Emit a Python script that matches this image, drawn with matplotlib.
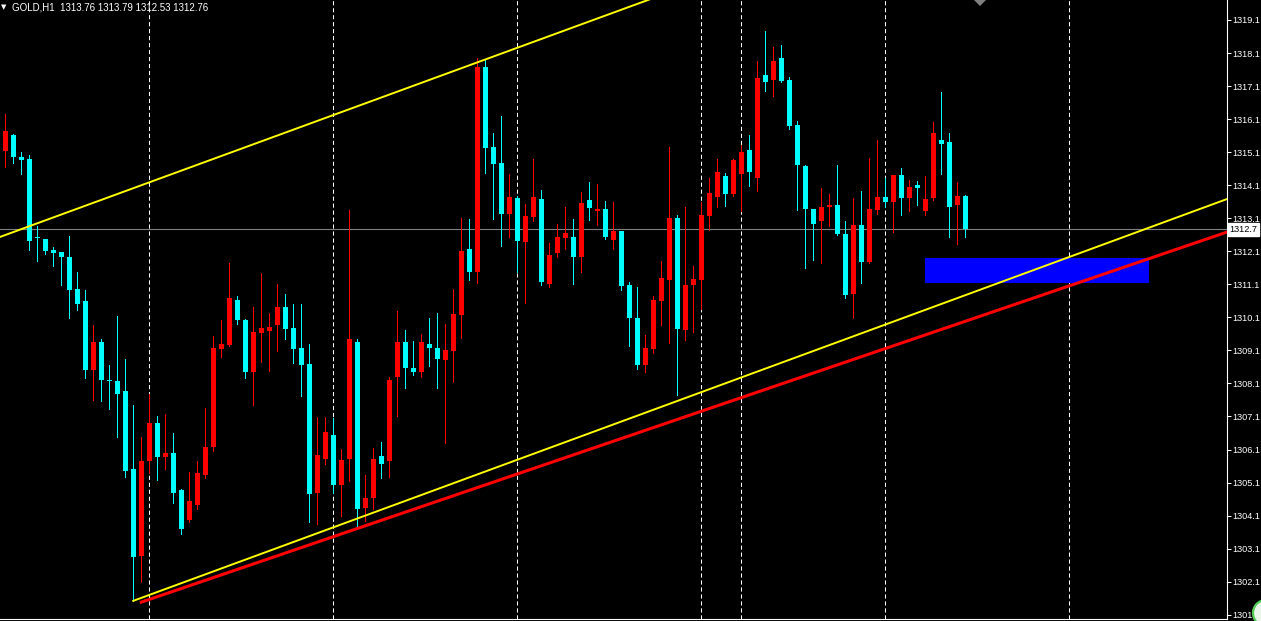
import matplotlib
matplotlib.use("Agg")
import matplotlib.pyplot as plt
import matplotlib.transforms as mtransforms
from matplotlib.patches import Rectangle, Circle, Polygon

# GOLD H1 candles (bar index = position from the left)
opens = [
    1315.14, 1315.62, 1314.95, 1314.89, 1312.52, 1312.47, 1312.14, 1312.08, 1311.93, 1310.96,
    1310.60, 1308.51, 1309.35, 1308.21, 1308.17, 1307.87, 1305.51, 1302.89, 1305.75, 1306.90,
    1305.88, 1305.99, 1304.88, 1303.98, 1304.42, 1305.33, 1306.19, 1309.14, 1309.26, 1310.63,
    1310.02, 1308.45, 1309.63, 1309.69, 1309.87, 1310.41, 1309.78, 1309.17, 1308.69, 1304.79,
    1305.82, 1306.54, 1305.04, 1305.82, 1309.35, 1304.34, 1304.64, 1305.90, 1305.76, 1308.30,
    1309.35, 1308.57, 1308.46, 1309.29, 1309.17, 1308.82, 1309.09, 1310.18, 1312.17, 1311.48,
    1317.68, 1315.26, 1314.77, 1313.24, 1313.71, 1312.39, 1313.15, 1313.68, 1311.12, 1312.06,
    1312.51, 1312.53, 1311.94, 1313.65, 1313.32, 1313.38, 1312.45, 1312.71, 1311.08, 1310.08,
    1308.67, 1309.15, 1310.60, 1311.24, 1313.11, 1309.73, 1311.09, 1311.24, 1313.18, 1313.75,
    1314.38, 1313.84, 1314.45, 1315.17, 1314.33, 1317.44, 1317.29, 1317.95, 1317.28, 1315.92,
    1314.68, 1313.38, 1313.03, 1313.45, 1313.50, 1312.62, 1310.82, 1312.90, 1311.78, 1313.36,
    1313.74, 1313.60, 1314.41, 1313.72, 1314.11, 1313.33, 1313.72, 1315.47, 1315.41, 1313.51,
    1313.76,
]
highs = [
    1316.25, 1315.66, 1315.11, 1315.01, 1312.87, 1312.47, 1312.23, 1312.08, 1312.56, 1311.47,
    1310.93, 1309.87, 1309.44, 1308.66, 1310.14, 1308.84, 1307.45, 1306.48, 1307.78, 1307.11,
    1307.18, 1306.60, 1304.91, 1305.42, 1305.75, 1307.36, 1309.54, 1310.02, 1311.75, 1310.75,
    1310.05, 1310.41, 1311.44, 1310.23, 1311.11, 1310.81, 1310.50, 1310.50, 1309.29, 1307.08,
    1307.08, 1307.05, 1306.12, 1313.35, 1309.44, 1305.34, 1306.16, 1306.33, 1308.30, 1310.29,
    1309.72, 1309.38, 1309.60, 1310.08, 1310.23, 1309.90, 1310.96, 1313.11, 1313.08, 1317.95,
    1317.92, 1315.68, 1316.19, 1314.44, 1313.77, 1313.53, 1314.89, 1313.95, 1312.35, 1312.93,
    1313.44, 1313.08, 1313.89, 1314.20, 1314.14, 1313.62, 1313.59, 1312.71, 1311.17, 1311.02,
    1309.57, 1310.75, 1311.81, 1315.26, 1313.20, 1313.44, 1311.65, 1313.59, 1314.32, 1314.89,
    1314.47, 1314.89, 1315.32, 1315.62, 1317.86, 1318.77, 1318.28, 1318.34, 1317.37, 1316.04,
    1314.71, 1313.38, 1314.02, 1313.83, 1314.71, 1313.02, 1313.71, 1313.92, 1314.92, 1315.47,
    1314.32, 1314.41, 1314.62, 1314.26, 1314.23, 1314.38, 1316.01, 1316.92, 1315.68, 1314.20,
    1313.79,
]
lows = [
    1314.66, 1314.78, 1314.45, 1312.15, 1311.81, 1312.03, 1311.66, 1311.09, 1310.09, 1310.33,
    1308.26, 1307.60, 1307.58, 1307.34, 1306.49, 1305.28, 1301.52, 1302.10, 1305.38, 1305.18,
    1305.52, 1304.49, 1303.55, 1303.92, 1304.31, 1305.25, 1306.06, 1308.91, 1309.24, 1309.91,
    1308.27, 1307.45, 1308.75, 1308.48, 1309.08, 1309.45, 1308.72, 1307.72, 1303.91, 1303.85,
    1305.67, 1304.79, 1304.10, 1305.16, 1303.76, 1303.95, 1304.31, 1305.25, 1305.28, 1307.12,
    1307.97, 1308.36, 1308.30, 1308.64, 1307.97, 1306.31, 1308.15, 1309.48, 1311.24, 1311.15,
    1314.48, 1313.09, 1312.27, 1312.54, 1311.48, 1310.54, 1313.03, 1311.09, 1311.03, 1311.94,
    1312.18, 1311.12, 1311.48, 1313.06, 1312.90, 1312.48, 1312.18, 1310.94, 1309.24, 1308.55,
    1308.46, 1309.03, 1309.88, 1309.33, 1307.76, 1309.42, 1309.67, 1310.36, 1312.75, 1313.45,
    1313.48, 1313.78, 1313.33, 1314.08, 1313.93, 1316.96, 1316.81, 1317.22, 1315.81, 1313.36,
    1311.60, 1311.85, 1311.75, 1312.87, 1312.60, 1310.70, 1310.08, 1311.15, 1311.76, 1313.24,
    1313.45, 1312.69, 1313.21, 1313.33, 1313.51, 1313.21, 1313.66, 1314.45, 1312.54, 1312.33,
    1312.53,
]
closes = [
    1315.74, 1314.96, 1314.86, 1312.42, 1312.49, 1312.12, 1312.05, 1311.94, 1310.94, 1310.51,
    1308.51, 1309.35, 1308.20, 1308.18, 1307.79, 1305.46, 1302.86, 1305.75, 1306.90, 1305.88,
    1305.99, 1304.79, 1303.70, 1304.54, 1305.39, 1306.18, 1309.17, 1309.29, 1310.69, 1310.02,
    1308.45, 1309.66, 1309.78, 1309.81, 1310.41, 1309.75, 1309.14, 1308.66, 1304.75, 1305.93,
    1306.63, 1305.04, 1305.78, 1309.44, 1304.31, 1304.63, 1305.81, 1305.67, 1308.20, 1309.35,
    1308.58, 1308.46, 1309.35, 1309.18, 1308.85, 1309.11, 1310.20, 1312.11, 1311.48, 1317.68,
    1315.24, 1314.75, 1313.24, 1313.74, 1312.42, 1313.17, 1313.74, 1311.18, 1311.99, 1312.53,
    1312.65, 1311.94, 1313.56, 1313.42, 1313.38, 1312.54, 1312.71, 1311.06, 1310.09, 1308.67,
    1309.17, 1310.63, 1311.29, 1313.11, 1309.76, 1311.08, 1311.26, 1313.20, 1313.86, 1314.50,
    1313.84, 1314.86, 1315.10, 1314.51, 1317.34, 1317.23, 1317.86, 1317.25, 1315.90, 1314.72,
    1313.39, 1312.93, 1313.44, 1313.50, 1312.63, 1310.79, 1312.90, 1311.78, 1313.38, 1313.74,
    1313.60, 1314.41, 1313.72, 1314.05, 1314.02, 1313.68, 1315.68, 1315.36, 1313.45, 1313.77,
    1312.76,
]

last_price = 1312.76
price_ticks = [1301.1, 1302.1, 1303.1, 1304.1, 1305.1, 1306.1, 1307.1, 1308.1, 1309.1, 1310.1,
               1311.1, 1312.1, 1313.1, 1314.1, 1315.1, 1316.1, 1317.1, 1318.1, 1319.1]
grid_bars = [18, 41, 64, 87, 92, 110, 133]

# drawn objects (bar index, price)
channel_top_x = [-0.7, 80.5]
channel_top_y = [1312.53, 1319.72]
channel_bottom_x = [16.0, 152.7]
channel_bottom_y = [1301.52, 1313.68]
red_line_x = [17.0, 152.7]
red_line_y = [1301.48, 1312.68]
zone_x = [115.0, 143.0]
zone_y = [1311.14, 1311.90]

UP = "#ff0000"
DOWN = "#00ffff"
FONT = ["Liberation Sans", "DejaVu Sans"]

fig = plt.figure(figsize=(12.61, 6.21), dpi=100, facecolor="black")
ax = fig.add_axes([0, 2 / 621, 1227 / 1261, 619 / 621], facecolor="black")
ax.set_xlim(-0.66, 152.71)
ax.set_ylim(1300.97, 1319.705)

# grid + current price line
for g in grid_bars:
    ax.axvline(g, color="white", lw=0.75, linestyle=(0, (4, 2.7)), zorder=1)
ax.axhline(last_price, color="#808080", lw=0.8, zorder=1.5)

# candles
for i in range(len(opens)):
    o, h, l, c = opens[i], highs[i], lows[i], closes[i]
    col = UP if c >= o else DOWN
    ax.vlines(i, l, h, color=col, lw=0.72, antialiased=False, zorder=2)
    bottom = min(o, c)
    height = max(abs(c - o), 0.035)
    ax.bar(i, height, bottom=bottom, width=0.62, color=col, linewidth=0, zorder=3)

# zone and trendlines
ax.add_patch(Rectangle((zone_x[0], zone_y[0]), zone_x[1] - zone_x[0], zone_y[1] - zone_y[0],
                       facecolor="#0000ff", edgecolor="none", zorder=3.5))
ax.plot(channel_top_x, channel_top_y, color="#ffff00", lw=1.4, zorder=4)
ax.plot(channel_bottom_x, channel_bottom_y, color="#ffff00", lw=1.4, zorder=4)
ax.plot(red_line_x, red_line_y, color="#ff0000", lw=2.2, zorder=4.5)

# axes look
for side in ["top", "left"]:
    ax.spines[side].set_visible(False)
for side in ["right", "bottom"]:
    ax.spines[side].set_color("white")
    ax.spines[side].set_linewidth(0.8)
ax.set_xticks([])
ax.yaxis.tick_right()
ax.set_yticks(price_ticks)
ax.set_yticklabels([f"{p:.1f}" for p in price_ticks])
ax.tick_params(axis="y", colors="white", length=3, width=0.75, pad=1.2, labelsize=6.6)
for lab in ax.get_yticklabels():
    lab.set_family(FONT)

# last price tag (terminal shows it cut at one decimal)
trans = mtransforms.blended_transform_factory(ax.transAxes, ax.transData)
ax.text(1.002, last_price, f"{last_price:.2f}"[:-1], transform=trans, ha="left", va="center",
        fontsize=6.6, family=FONT, color="black",
        bbox=dict(facecolor="white", edgecolor="white", pad=1.2), clip_on=False, zorder=10)

# header
fig.text(1 / 1261, 1 - 7 / 621, "\u25bc", color="white", fontsize=5, va="center",
         family="DejaVu Sans")
fig.text(12 / 1261, 1 - 7 / 621,
         f"GOLD,H1  {opens[-1]:.2f} {highs[-1]:.2f} {lows[-1]:.2f} {closes[-1]:.2f}",
         color="white", fontsize=7.0, va="center", family=FONT)

# chart shift marker and corner icon
fig.add_artist(Polygon([[974 / 1261, 1], [986 / 1261, 1], [980 / 1261, 1 - 6 / 621]],
                       closed=True, facecolor="#7f7f7f", edgecolor="none"))
fig.add_artist(Circle((12.66, 0.08), 0.13, transform=fig.dpi_scale_trans,
                      facecolor="#e8f5e8", edgecolor="#55cc55", lw=1.6))

fig.savefig("out.png", dpi=100, facecolor="black")
